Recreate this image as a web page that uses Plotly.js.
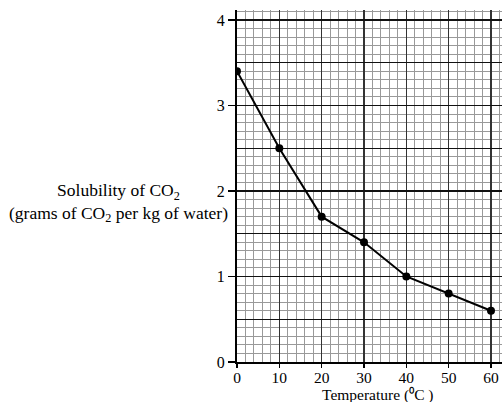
<!DOCTYPE html>
<html><head><meta charset="utf-8">
<script src="https://cdn.plot.ly/plotly-3.0.1.min.js"></script>
<style>html,body{margin:0;padding:0;background:#fff}</style>
</head><body>
<div id="chart" style="width:502px;height:402px"></div>
<script>
var temperature = [0, 10, 20, 30, 40, 50, 60];
var solubility = [3.4, 2.5, 1.7, 1.4, 1.0, 0.8, 0.6];
var xTickVals = [0, 10, 20, 30, 40, 50, 60];
var yTickVals = [0, 1, 2, 3, 4];

var font = {family: 'Liberation Serif, Times New Roman, serif', size: 16, color: '#000'};
var xTickFont = {family: 'Liberation Serif, Times New Roman, serif', size: 15.5, color: '#000'};
var yTitleFont = {family: 'Liberation Serif, Times New Roman, serif', size: 17.5, color: '#000'};
var xTitleFont = {family: 'Liberation Serif, Times New Roman, serif', size: 15.5, color: '#000'};
var xr = [0, 62.6], yr = [0, 4.117];

var traces = [
  {x: temperature, y: solubility, xaxis: 'x', yaxis: 'y', mode: 'lines+markers',
   line: {color: '#000', width: 2}, marker: {color: '#000', size: 8}, hoverinfo: 'skip'},
  {x: temperature, y: solubility, xaxis: 'x2', yaxis: 'y2', mode: 'markers',
   marker: {opacity: 0}, hoverinfo: 'skip', showlegend: false}
];

var layout = {
  width: 502, height: 402,
  margin: {l: 237, r: 0, t: 10, b: 40},
  paper_bgcolor: '#fff', plot_bgcolor: '#fff',
  showlegend: false,
  font: font,
  xaxis: {range: xr, tickvals: xTickVals, showgrid: true, gridcolor: '#333', gridwidth: 1.3,
          showticklabels: false, ticks: '', zeroline: false, showline: false,
          minor: {dtick: 2, showgrid: true, gridcolor: '#999', gridwidth: 1}},
  yaxis: {range: yr, dtick: 0.5, tick0: 0, showgrid: true, gridcolor: '#111', gridwidth: 1.4,
          showticklabels: false, ticks: '', zeroline: false, showline: false,
          minor: {dtick: 0.1, showgrid: true, gridcolor: '#999', gridwidth: 1}},
  xaxis2: {range: xr, overlaying: 'x', tickvals: xTickVals, ticks: 'outside', ticklen: 4, tickwidth: 1.5,
           tickcolor: '#000', showgrid: false, zeroline: false, showline: true, linecolor: '#000', linewidth: 2,
           tickfont: xTickFont, anchor: 'y2', side: 'bottom', ticklabelstandoff: -4},
  yaxis2: {range: yr, overlaying: 'y', tickvals: yTickVals, ticks: 'outside', ticklen: 7, tickwidth: 1.5,
           tickcolor: '#000', showgrid: false, zeroline: false, showline: true, linecolor: '#000', linewidth: 2,
           tickfont: font, anchor: 'x2', side: 'left'},
  annotations: [
    {xref: 'paper', yref: 'paper', x: -0.449, y: 0.452, xanchor: 'center', yanchor: 'middle',
     text: 'Solubility of CO<sub>2</sub><br>(grams of CO<sub>2</sub> per kg of water)',
     showarrow: false, font: yTitleFont, align: 'center'},
    {xref: 'paper', yref: 'paper', x: 0.532, y: -0.123, xanchor: 'center', yanchor: 'bottom',
     text: 'Temperature (\u2070C )', showarrow: false, font: xTitleFont, borderpad: 0}
  ]
};
Plotly.newPlot('chart', traces, layout, {staticPlot: true, displayModeBar: false});
</script>
</body></html>
